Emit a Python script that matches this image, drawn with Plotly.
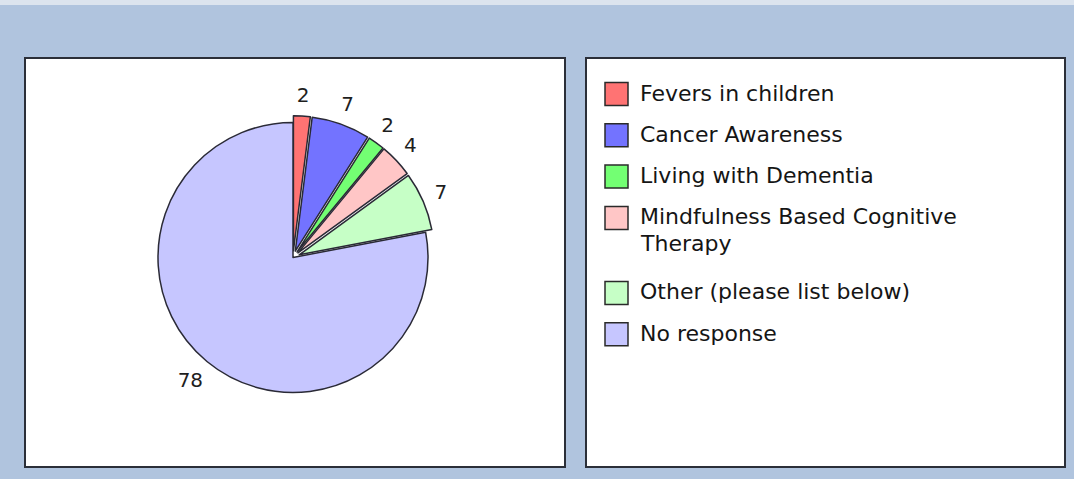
import textwrap
import numpy as np
import plotly.graph_objects as go

# Survey responses per course
categories = [
    "Fevers in children",
    "Cancer Awareness",
    "Living with Dementia",
    "Mindfulness Based Cognitive Therapy",
    "Other (please list below)",
    "No response",
]
responses = [2, 7, 2, 4, 7, 78]
slice_colors = ["#FF7373", "#7373FF", "#73FF73", "#FFC6C6", "#C6FFC6", "#C6C6FF"]
slice_pull = [0.05, 0.05, 0.05, 0.05, 0.05, 0.0]

W, H = 1074, 479
FONT = "DejaVu Sans"


def fx(x):
    return x / W


def fy(y):
    return 1 - y / H


# pie geometry (pixels): centre and radius of the unpulled slices
cx, cy, r = 293, 257.5, 135
half = r * (1 + max(slice_pull))
label_box = 175      # half-size of the polar frame used for the value labels
label_r = 161        # radius (px) of the value labels

fig = go.Figure()
fig.add_trace(
    go.Pie(
        labels=categories,
        values=responses,
        sort=False,
        direction="clockwise",
        rotation=0,
        pull=slice_pull,
        marker=dict(colors=slice_colors, line=dict(color="#2A2A36", width=1.5)),
        textinfo="none",
        showlegend=False,
        hoverinfo="label+value",
        domain=dict(
            x=[fx(cx - half), fx(cx + half)],
            y=[fy(cy + half), fy(cy - half)],
        ),
    )
)

# value labels on each slice's bisector, clockwise from 12 o'clock
vals = np.array(responses, dtype=float)
ends = np.cumsum(vals) / vals.sum() * 360
mids = ends - vals / vals.sum() * 180
fig.add_trace(
    go.Scatterpolar(
        r=[label_r] * len(responses),
        theta=mids,
        mode="text",
        text=[str(v) for v in responses],
        textposition="middle center",
        textfont=dict(family=FONT, size=20, color="#1E1E1E"),
        cliponaxis=False,
        hoverinfo="skip",
        showlegend=False,
    )
)

shapes = [
    # light strip along the top edge
    dict(type="rect", xref="paper", yref="paper", x0=0, x1=1, y0=fy(5), y1=1,
         fillcolor="#DCE4EE", line=dict(width=0), layer="below"),
    # chart panel
    dict(type="rect", xref="paper", yref="paper", x0=fx(25), x1=fx(565),
         y0=fy(467), y1=fy(58), fillcolor="white",
         line=dict(color="#2B2F38", width=2), layer="below"),
    # legend panel
    dict(type="rect", xref="paper", yref="paper", x0=fx(586), x1=fx(1065),
         y0=fy(467), y1=fy(58), fillcolor="white",
         line=dict(color="#2B2F38", width=2), layer="below"),
]

annotations = []
row_y = 93          # centre of the first text line of the first legend item
row_step = 41.3     # spacing between single-line legend items
extra_line = 33.7   # added spacing per wrapped line
line_h = 27
box = 23
for name, col in zip(categories, slice_colors):
    lines = textwrap.wrap(name, 28)
    shapes.append(
        dict(type="rect", xref="paper", yref="paper",
             x0=fx(605), x1=fx(605 + box),
             y0=fy(row_y + box / 2 + 1), y1=fy(row_y - box / 2 + 1),
             fillcolor=col, line=dict(color="#2A2A2A", width=1.5))
    )
    for k, ln in enumerate(lines):
        annotations.append(
            dict(xref="paper", yref="paper", x=fx(638), y=fy(row_y + k * line_h),
                 xanchor="left", yanchor="middle", text=ln, showarrow=False,
                 font=dict(family=FONT, size=22, color="#151515"))
        )
    row_y += row_step + extra_line * (len(lines) - 1)

fig.update_layout(
    width=W,
    height=H,
    margin=dict(l=0, r=0, t=0, b=0),
    paper_bgcolor="#B0C4DE",
    plot_bgcolor="#B0C4DE",
    shapes=shapes,
    annotations=annotations,
    polar=dict(
        domain=dict(
            x=[fx(cx - label_box), fx(cx + label_box)],
            y=[fy(cy + label_box), fy(cy - label_box)],
        ),
        bgcolor="rgba(0,0,0,0)",
        radialaxis=dict(visible=False, range=[0, label_box]),
        angularaxis=dict(visible=False, rotation=90, direction="clockwise"),
    ),
)

fig.write_html("out.html")
